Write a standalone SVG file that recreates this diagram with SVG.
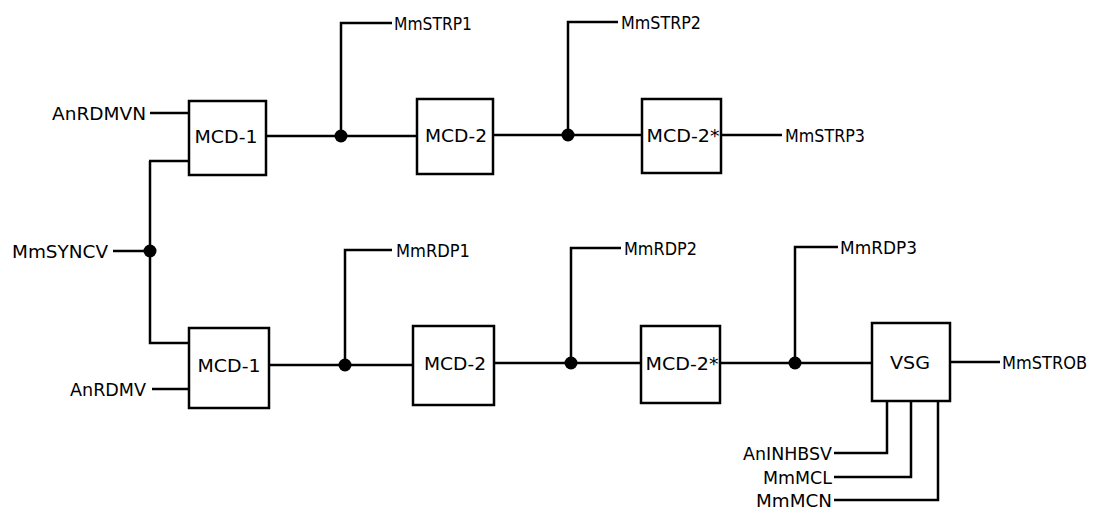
<svg xmlns="http://www.w3.org/2000/svg" width="1093" height="511" viewBox="0 0 1093 511">
<style>
.box{fill:#fff;stroke:#000;stroke-width:2.5}
.w{fill:none;stroke:#000;stroke-width:2.5;stroke-linejoin:miter}
.dot{fill:#000}
text{font-family:"DejaVu Sans","Liberation Sans",sans-serif;font-size:18px;fill:#000}
.c{text-anchor:middle}
.e{text-anchor:end}
</style>
<rect width="1093" height="511" fill="#fff"/>
<g id="connectors">
<path class="w" d="M150,113H189"/>
<path class="w" d="M149,161H189"/>
<path class="w" d="M113,251H150V343H189"/>
<path class="w" d="M150,251V161"/>
<path class="w" d="M266,136H417"/>
<path class="w" d="M341,136V23H392"/>
<path class="w" d="M493,135H642"/>
<path class="w" d="M568,135V22H618"/>
<path class="w" d="M721,135H782"/>
<path class="w" d="M152,389H189"/>
<path class="w" d="M269,365H413"/>
<path class="w" d="M345,365V250H392"/>
<path class="w" d="M494,363H641"/>
<path class="w" d="M571,363V248H621"/>
<path class="w" d="M720,363H872"/>
<path class="w" d="M795,363V247H838"/>
<path class="w" d="M950,362H1000"/>
<path class="w" d="M887,401V453H834"/>
<path class="w" d="M911,401V477H834"/>
<path class="w" d="M938,401V500H834"/>
<circle class="dot" cx="341" cy="136" r="6.5"/>
<circle class="dot" cx="568" cy="135" r="6.5"/>
<circle class="dot" cx="150" cy="251" r="6.5"/>
<circle class="dot" cx="345" cy="365" r="6.5"/>
<circle class="dot" cx="571" cy="363" r="6.5"/>
<circle class="dot" cx="795" cy="363" r="6.5"/>
</g>
<g id="mcd1-top"><rect class="box" x="189" y="101" width="77" height="74"/><text class="c" x="226" y="142.5" textLength="63" lengthAdjust="spacingAndGlyphs">MCD-1</text></g>
<g id="mcd2-top"><rect class="box" x="417" y="99" width="76" height="75"/><text class="c" x="456" y="141.5" textLength="62" lengthAdjust="spacingAndGlyphs">MCD-2</text></g>
<g id="mcd2s-top"><rect class="box" x="642" y="99" width="79" height="74"/><text class="c" x="683" y="141.5" textLength="73" lengthAdjust="spacingAndGlyphs">MCD-2*</text></g>
<g id="mcd1-bot"><rect class="box" x="189" y="328" width="80" height="80"/><text class="c" x="229" y="371.5" textLength="63" lengthAdjust="spacingAndGlyphs">MCD-1</text></g>
<g id="mcd2-bot"><rect class="box" x="413" y="326" width="81" height="79"/><text class="c" x="455" y="369.5" textLength="62" lengthAdjust="spacingAndGlyphs">MCD-2</text></g>
<g id="mcd2s-bot"><rect class="box" x="641" y="326" width="79" height="77"/><text class="c" x="682" y="369.5" textLength="73" lengthAdjust="spacingAndGlyphs">MCD-2*</text></g>
<g id="vsg"><rect class="box" x="872" y="323" width="78" height="78"/><text class="c" x="910" y="368.5" textLength="40" lengthAdjust="spacingAndGlyphs">VSG</text></g>
<g id="labels">
<text class="e" x="146" y="119.5" textLength="94" lengthAdjust="spacingAndGlyphs">AnRDMVN</text>
<text x="12" y="257.5" textLength="96" lengthAdjust="spacingAndGlyphs">MmSYNCV</text>
<text class="e" x="146" y="395.5" textLength="76" lengthAdjust="spacingAndGlyphs">AnRDMV</text>
<text x="394" y="29.5" textLength="78" lengthAdjust="spacingAndGlyphs">MmSTRP1</text>
<text x="621" y="28.5" textLength="80" lengthAdjust="spacingAndGlyphs">MmSTRP2</text>
<text x="785" y="141.5" textLength="80" lengthAdjust="spacingAndGlyphs">MmSTRP3</text>
<text x="396" y="256.5" textLength="74" lengthAdjust="spacingAndGlyphs">MmRDP1</text>
<text x="624" y="254.5" textLength="73" lengthAdjust="spacingAndGlyphs">MmRDP2</text>
<text x="840" y="253.5" textLength="77" lengthAdjust="spacingAndGlyphs">MmRDP3</text>
<text x="1002" y="368.5" textLength="85" lengthAdjust="spacingAndGlyphs">MmSTROB</text>
<text class="e" x="832" y="459.5" textLength="89" lengthAdjust="spacingAndGlyphs">AnINHBSV</text>
<text class="e" x="832" y="483.5" textLength="69" lengthAdjust="spacingAndGlyphs">MmMCL</text>
<text class="e" x="832" y="506.5" textLength="76" lengthAdjust="spacingAndGlyphs">MmMCN</text>
</g>
</svg>
